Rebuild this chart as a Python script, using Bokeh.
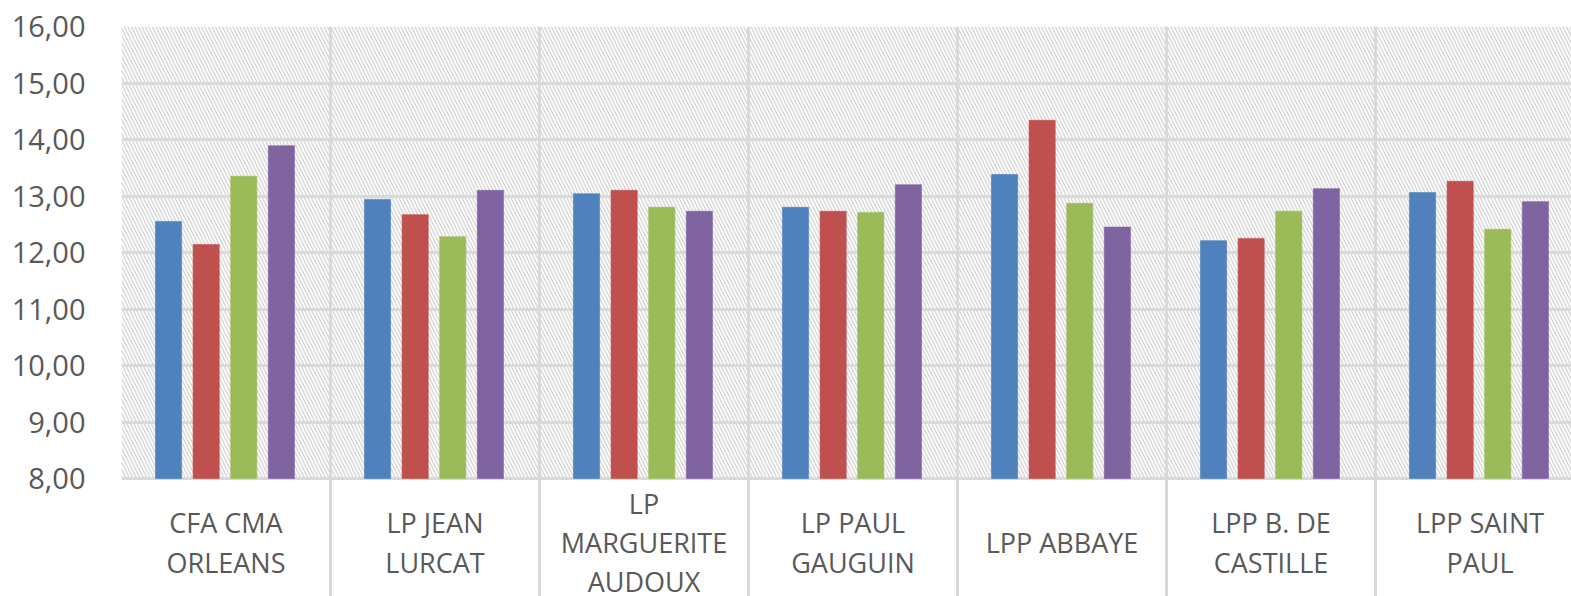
from bokeh.plotting import figure
from bokeh.models import Range1d, FixedTicker, BoxAnnotation, ColumnDataSource
from bokeh.core.properties import value
from bokeh.embed import file_html
from bokeh.resources import INLINE

categories = ["CFA CMA\nORLEANS", "LP JEAN\nLURCAT", "LP\nMARGUERITE\nAUDOUX",
              "LP PAUL\nGAUGUIN", "LPP ABBAYE", "LPP B. DE\nCASTILLE", "LPP SAINT\nPAUL"]
serie1 = [12.55, 12.94, 13.04, 12.80, 13.38, 12.21, 13.06]
serie2 = [12.14, 12.67, 13.10, 12.73, 14.34, 12.25, 13.26]
serie3 = [13.35, 12.28, 12.80, 12.71, 12.87, 12.73, 12.41]
serie4 = [13.89, 13.10, 12.73, 13.20, 12.45, 13.13, 12.90]
y_ticks = [8, 9, 10, 11, 12, 13, 14, 15, 16]

series = [serie1, serie2, serie3, serie4]
colors = ["#4F81BD", "#C0504D", "#9BBB59", "#8064A2"]
offsets = [-0.275, -0.095, 0.085, 0.265]
FONT = "Open Sans"
TXT = "#595959"

W, H = 1571, 596
top_border, left_border = 26, 121
px_per_unit = 56.5
frame_h = H - top_border
y_start = 16 - frame_h / px_per_unit
cat_px = 209.0
x_end = (W - left_border) / cat_px

p = figure(width=W, height=H, output_backend="svg", toolbar_location=None,
           x_range=Range1d(0, x_end), y_range=Range1d(y_start, 16),
           x_axis_location=None, min_border_left=left_border, min_border_top=top_border,
           min_border_bottom=0, min_border_right=0)
p.outline_line_color = None
p.background_fill_color = "white"
p.border_fill_color = "white"

# hatched plot area
p.add_layout(BoxAnnotation(bottom=8, top=16, left=0, fill_alpha=0, line_alpha=0,
                           hatch_pattern="left_diagonal_line", hatch_color="#dadada",
                           hatch_weight=1.6, hatch_scale=7, level="underlay"))

p.ygrid.ticker = FixedTicker(ticks=y_ticks)
p.ygrid.grid_line_color = "#d9d9d9"
p.ygrid.grid_line_width = 3
p.xgrid.ticker = FixedTicker(ticks=list(range(len(categories) + 1)))
p.xgrid.grid_line_color = "#d9d9d9"
p.xgrid.grid_line_width = 3

yax = p.yaxis[0]
yax.ticker = FixedTicker(ticks=y_ticks)
yax.major_label_overrides = {t: f"{t},00" for t in y_ticks}
yax.axis_line_color = None
yax.major_tick_line_color = None
yax.minor_tick_line_color = None
yax.major_tick_out = 0
yax.major_label_standoff = 36
yax.major_label_text_font = FONT
yax.major_label_text_font_size = "29px"
yax.major_label_text_color = TXT

for k, (vals, col, off) in enumerate(zip(series, colors, offsets)):
    src = ColumnDataSource(dict(x=[i + 0.5 + off for i in range(len(vals))], top=vals))
    p.vbar(x="x", top="top", bottom=8, width=0.125, source=src,
           fill_color=col, line_color=col, line_width=1, line_alpha=0.6)

lab = ColumnDataSource(dict(x=[i + 0.5 for i in range(len(categories))],
                            y=[16 - (542 - 26) / px_per_unit] * len(categories),
                            t=categories))
p.text(x="x", y="y", text="t", source=lab, text_align="center", text_baseline="middle",
       text_font=value(FONT), text_font_size="27px", text_color=TXT, text_line_height=1.06)

open("out.html", "w").write(file_html(p, INLINE))
